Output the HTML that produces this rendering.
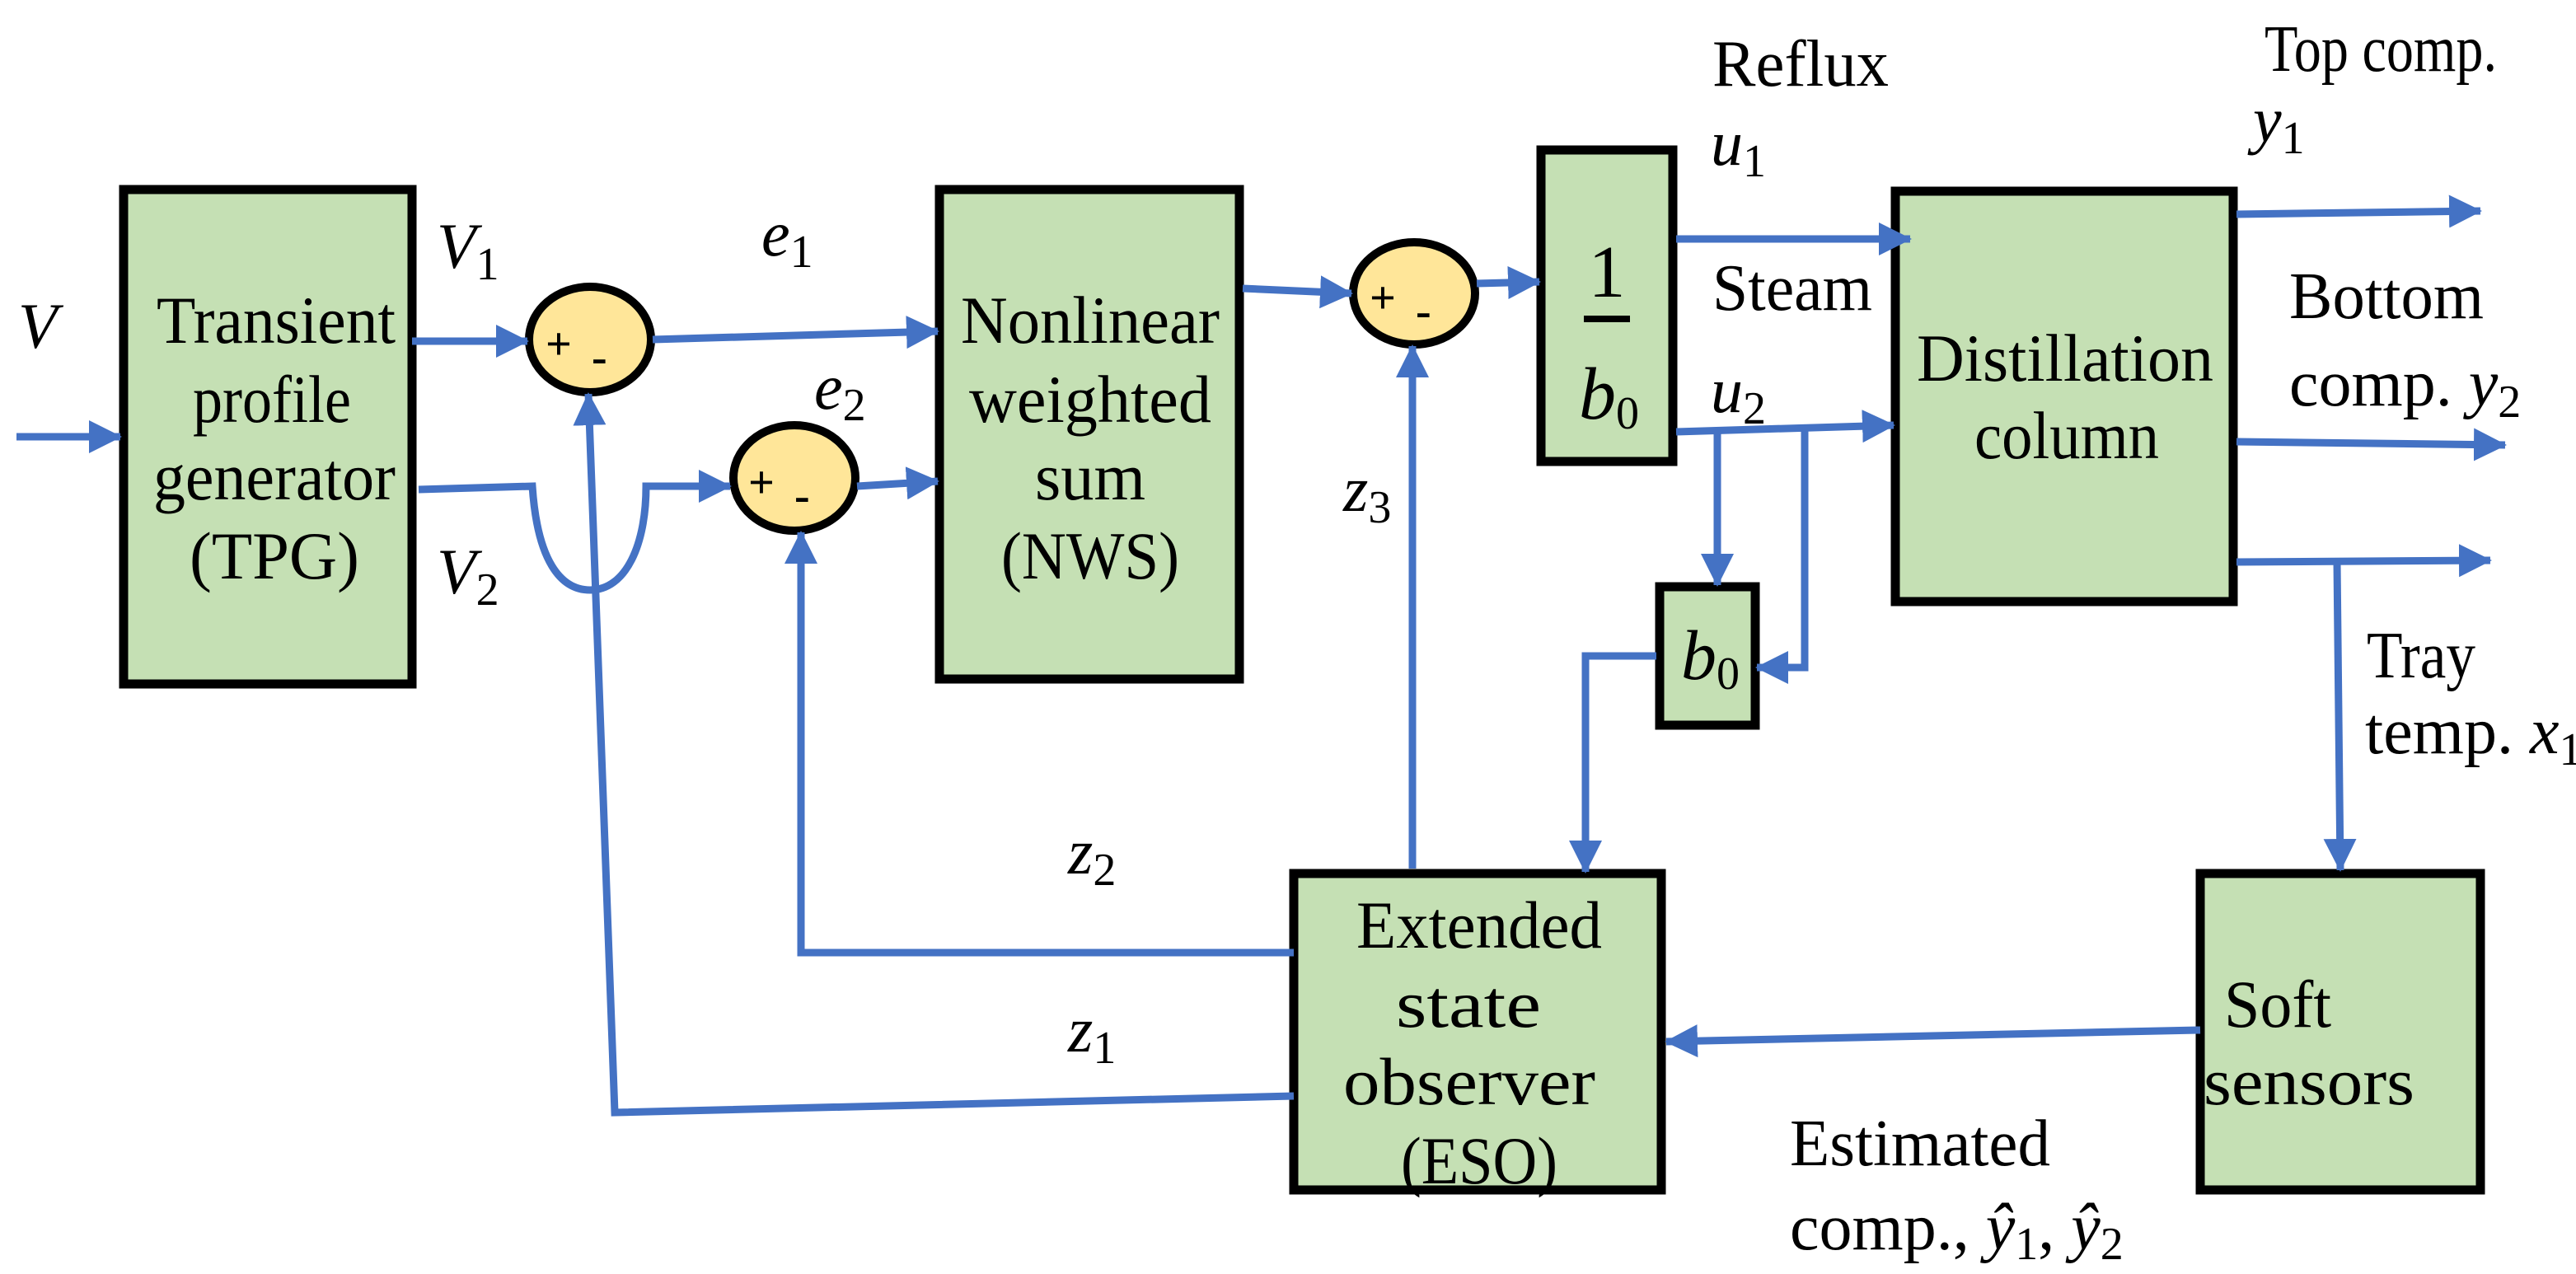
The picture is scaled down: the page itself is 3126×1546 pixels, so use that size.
<!DOCTYPE html>
<html><head><meta charset="utf-8"><style>
html,body{margin:0;padding:0;background:#fff}
svg{display:block}
text{font-family:"Liberation Serif","Times New Roman",serif;fill:#000}
.t{font-size:82px;text-anchor:middle}
.i{font-style:italic;font-size:78px}
.s{font-size:56px;font-style:normal}
</style></head><body>
<svg width="3126" height="1546" viewBox="0 0 3126 1546" xmlns="http://www.w3.org/2000/svg" font-family="Liberation Serif, Times New Roman, serif">
<defs>
<marker id="a" markerUnits="userSpaceOnUse" markerWidth="44" markerHeight="44" refX="38" refY="20" orient="auto">
<path d="M0,0 L40,20 L0,40 z" fill="#4472C4"/></marker>
</defs>
<g fill="#C5E0B4" stroke="#000" stroke-width="11">
<rect x="150" y="230" width="350" height="600"/>
<rect x="1140" y="230" width="364" height="594"/>
<rect x="1870" y="182" width="160" height="378"/>
<rect x="2300" y="232" width="410" height="498"/>
<rect x="2014" y="712" width="116" height="168"/>
<rect x="1570" y="1060" width="446" height="384"/>
<rect x="2670" y="1060" width="340" height="384"/>
</g>
<g fill="#FFE699" stroke="#000" stroke-width="10">
<ellipse cx="716" cy="412" rx="74" ry="64"/>
<ellipse cx="964" cy="580" rx="74" ry="64"/>
<ellipse cx="1716" cy="356" rx="74" ry="62"/>
</g>
<g font-family="Liberation Sans, sans-serif" font-weight="bold" font-size="56">
<text x="662" y="436">+</text><text x="718" y="452">-</text>
<text x="908" y="604">+</text><text x="964" y="620">-</text>
<text x="1662" y="380">+</text><text x="1718" y="396">-</text>
</g>
<g fill="none" stroke="#4472C4" stroke-width="9">
<path d="M20,530 H146" marker-end="url(#a)"/>
<path d="M500,414 H640" marker-end="url(#a)"/>
<path d="M792,412 L1138,402" marker-end="url(#a)"/>
<path d="M508,594 L646,590 C652,680 680,716 716,716 C760,716 784,660 784,590 H886" marker-end="url(#a)"/>
<path d="M1040,590 L1138,584" marker-end="url(#a)"/>
<path d="M1508,350 L1640,356" marker-end="url(#a)"/>
<path d="M1792,344 L1868,342" marker-end="url(#a)"/>
<path d="M2034,290 H2318" marker-end="url(#a)"/>
<path d="M2034,524 L2298,516" marker-end="url(#a)"/>
<path d="M2084,524 V710" marker-end="url(#a)"/>
<path d="M2190,520 V810 H2132" marker-end="url(#a)"/>
<path d="M2010,796 H1924 V1058" marker-end="url(#a)"/>
<path d="M1714,1054 V420" marker-end="url(#a)"/>
<path d="M1570,1156 H972 V646" marker-end="url(#a)"/>
<path d="M1570,1330 L746,1350 L714,478" marker-end="url(#a)"/>
<path d="M2714,260 L3010,256" marker-end="url(#a)"/>
<path d="M2714,536 L3040,540" marker-end="url(#a)"/>
<path d="M2714,682 L3022,680" marker-end="url(#a)"/>
<path d="M2836,682 L2840,1056" marker-end="url(#a)"/>
<path d="M2670,1250 L2022,1264" marker-end="url(#a)"/>
</g>
<g class="t">
<text x="335" y="416" textLength="290" lengthAdjust="spacingAndGlyphs">Transient</text>
<text x="330" y="512" textLength="192" lengthAdjust="spacingAndGlyphs">profile</text>
<text x="333" y="606" textLength="294" lengthAdjust="spacingAndGlyphs">generator</text>
<text x="333" y="702" textLength="206" lengthAdjust="spacingAndGlyphs">(TPG)</text>
<text x="1323" y="416" textLength="314" lengthAdjust="spacingAndGlyphs">Nonlinear</text>
<text x="1323" y="512" textLength="294" lengthAdjust="spacingAndGlyphs">weighted</text>
<text x="1323" y="606" textLength="134" lengthAdjust="spacingAndGlyphs">sum</text>
<text x="1323" y="702" textLength="216" lengthAdjust="spacingAndGlyphs">(NWS)</text>
<text x="2506" y="462" textLength="360" lengthAdjust="spacingAndGlyphs">Distillation</text>
<text x="2508" y="556" textLength="224" lengthAdjust="spacingAndGlyphs">column</text>
<text x="1795" y="1150" textLength="298" lengthAdjust="spacingAndGlyphs">Extended</text>
<text x="1782" y="1246" textLength="176" lengthAdjust="spacingAndGlyphs">state</text>
<text x="1783" y="1340" textLength="306" lengthAdjust="spacingAndGlyphs">observer</text>
<text x="1795" y="1436" textLength="190" lengthAdjust="spacingAndGlyphs">(ESO)</text>
<text x="2764" y="1246" textLength="130" lengthAdjust="spacingAndGlyphs">Soft</text>
<text x="2802" y="1340" textLength="256" lengthAdjust="spacingAndGlyphs">sensors</text>
<text x="1950" y="360" font-size="90">1</text>
</g>
<rect x="1922" y="383" width="56" height="8" fill="#000"/>
<g class="i">
<text x="1916" y="508" font-size="90">b<tspan class="s" dy="12">0</tspan></text>
<text x="2040" y="824" font-size="86">b<tspan class="s" dy="12">0</tspan></text>
<text x="22" y="422">V</text>
<text x="530" y="325">V<tspan class="s" dy="14">1</tspan></text>
<text x="530" y="720">V<tspan class="s" dy="14">2</tspan></text>
<text x="924" y="310">e<tspan class="s" dy="14">1</tspan></text>
<text x="988" y="496">e<tspan class="s" dy="14">2</tspan></text>
<text x="2076" y="200">u<tspan class="s" dy="14">1</tspan></text>
<text x="2076" y="500">u<tspan class="s" dy="14">2</tspan></text>
<text x="2734" y="172">y<tspan class="s" dy="14">1</tspan></text>
<text x="1630" y="620">z<tspan class="s" dy="14">3</tspan></text>
<text x="1296" y="1060">z<tspan class="s" dy="14">2</tspan></text>
<text x="1296" y="1276">z<tspan class="s" dy="14">1</tspan></text>
</g>
<g font-size="80">
<text x="2078" y="104" textLength="214" lengthAdjust="spacingAndGlyphs">Reflux</text>
<text x="2078" y="376" textLength="194" lengthAdjust="spacingAndGlyphs">Steam</text>
<text x="2748" y="86" textLength="282" lengthAdjust="spacingAndGlyphs">Top comp.</text>
<text x="2778" y="386" textLength="236" lengthAdjust="spacingAndGlyphs">Bottom</text>
<text x="2778" y="492">comp. <tspan font-style="italic">y</tspan><tspan font-size="56" dy="14">2</tspan></text>
<text x="2872" y="822" textLength="132" lengthAdjust="spacingAndGlyphs">Tray</text>
<text x="2870" y="914">temp. <tspan font-style="italic">x</tspan><tspan font-size="56" dy="14">1</tspan></text>
<text x="2172" y="1414" textLength="316" lengthAdjust="spacingAndGlyphs">Estimated</text>
<text x="2172" y="1516">comp., <tspan font-style="italic">ŷ</tspan><tspan font-size="56" dy="12">1</tspan><tspan dy="-12">, </tspan><tspan font-style="italic">ŷ</tspan><tspan font-size="56" dy="12">2</tspan></text>
</g>
</svg>
</body></html>
